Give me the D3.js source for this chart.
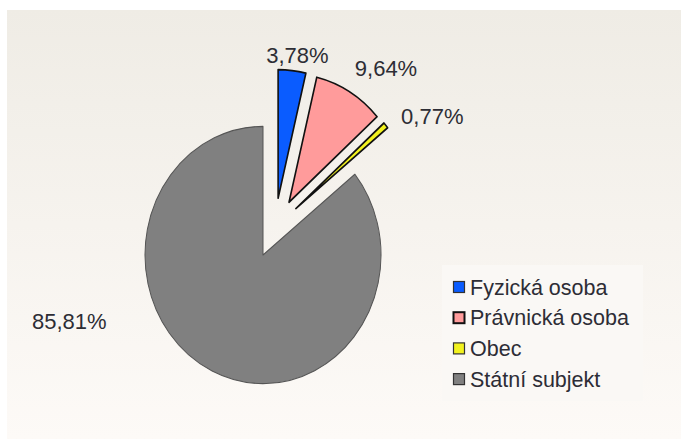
<!DOCTYPE html>
<meta charset="utf-8">
<style>
  body { margin: 0; background: #fff; }
  text { font-family: "Liberation Sans", Arial, sans-serif; fill: #2d2d35; }
</style>
<body>
<script src="https://d3js.org/d3.v7.min.js"></script>
<script>

// chart data
var categories = ["Fyzická osoba", "Právnická osoba", "Obec", "Státní subjekt"];
var values = [3.78, 9.64, 0.77, 85.81];
var colors = ["#0a5cff", "#ff9b9b", "#f2f21e", "#808080"];

var width = 681, height = 439;
var cx = 263, cy = 255, radius = 118, yStretch = 1.09;

var svg = d3.select("body").append("svg")
  .attr("width", width)
  .attr("height", height);

// panel background
var grad = svg.append("defs").append("linearGradient")
  .attr("id", "bg").attr("x1", 0).attr("y1", 0).attr("x2", 0).attr("y2", 1);
grad.append("stop").attr("offset", "0%").attr("stop-color", "#efece5");
grad.append("stop").attr("offset", "100%").attr("stop-color", "#fdfaf7");

svg.append("rect")
  .attr("x", 7).attr("y", 10)
  .attr("width", width - 7).attr("height", height - 10)
  .attr("fill", "url(#bg)");

var data = categories.map(function (c, i) {
  return { name: c, value: values[i], color: colors[i] };
});

var pie = d3.pie().sort(null).value(function (d) { return d.value; });
var arcs = pie(data);
var arc = d3.arc().innerRadius(0).outerRadius(radius);

var mid = function (d) { return (d.startAngle + d.endAngle) / 2; };
var isSmall = function (d) { return d.data.value < 50; };

// small slices are pulled out as a group, then each a bit more on its own
var small = arcs.filter(isSmall);
var groupAngle = (d3.min(small, function (d) { return d.startAngle; }) +
                  d3.max(small, function (d) { return d.endAngle; })) / 2;
var groupPull = 27.5, slicePull = 27.5;

var offset = function (d) {
  if (!isSmall(d)) return [0, 0];
  var a = mid(d);
  return [Math.sin(groupAngle) * groupPull + Math.sin(a) * slicePull,
          -Math.cos(groupAngle) * groupPull - Math.cos(a) * slicePull];
};

var g = svg.append("g")
  .attr("transform", "translate(" + cx + "," + cy + ") scale(1," + yStretch + ")");

g.selectAll("path")
  .data(arcs)
  .enter().append("path")
  .attr("d", arc)
  .attr("transform", function (d) {
    var o = offset(d);
    return "translate(" + o[0] + "," + o[1] + ")";
  })
  .attr("fill", function (d) { return d.data.color; })
  .attr("stroke", function (d) { return isSmall(d) ? "#111" : "#555"; })
  .attr("stroke-width", function (d) { return isSmall(d) ? 1.6 : 1; })
  .attr("stroke-linejoin", "round");

// percentage labels: shifted angle (deg) and radius per slice
var labelNudge = [{ da: 3.8, r: 187 }, { da: 4.7, r: 211 }, { da: 3.3, r: 212 }, { da: 47, r: 203 }];
var fmt = function (v) { return d3.format(".2f")(v).replace(".", ",") + "%"; };

svg.selectAll("text.lbl")
  .data(arcs)
  .enter().append("text")
  .attr("class", "lbl")
  .attr("x", function (d, i) {
    var a = mid(d) + labelNudge[i].da * Math.PI / 180;
    return cx + Math.sin(a) * labelNudge[i].r;
  })
  .attr("y", function (d, i) {
    var a = mid(d) + labelNudge[i].da * Math.PI / 180;
    return cy - Math.cos(a) * labelNudge[i].r * yStretch + 8;
  })
  .attr("text-anchor", "middle")
  .attr("font-size", "22px")
  .text(function (d) { return fmt(d.data.value); });

// legend
var legend = svg.append("g").attr("transform", "translate(442,265)");
legend.append("rect")
  .attr("width", 201).attr("height", 136)
  .attr("fill", "#faf8f5");

var item = legend.selectAll("g.item")
  .data(data)
  .enter().append("g")
  .attr("class", "item")
  .attr("transform", function (d, i) { return "translate(0," + (22 + i * 30.7) + ")"; });

item.append("rect")
  .attr("x", 11.5).attr("y", -5.5)
  .attr("width", 11).attr("height", 11)
  .attr("fill", function (d) { return d.color; })
  .attr("stroke", function (d, i) { return i === 1 ? "#111" : "#333"; })
  .attr("stroke-width", function (d, i) { return i === 1 ? 2 : 1.2; });

item.append("text")
  .attr("x", 28).attr("y", 7.5)
  .attr("font-size", "21.5px")
  .text(function (d) { return d.name; });

</script>
</body>
